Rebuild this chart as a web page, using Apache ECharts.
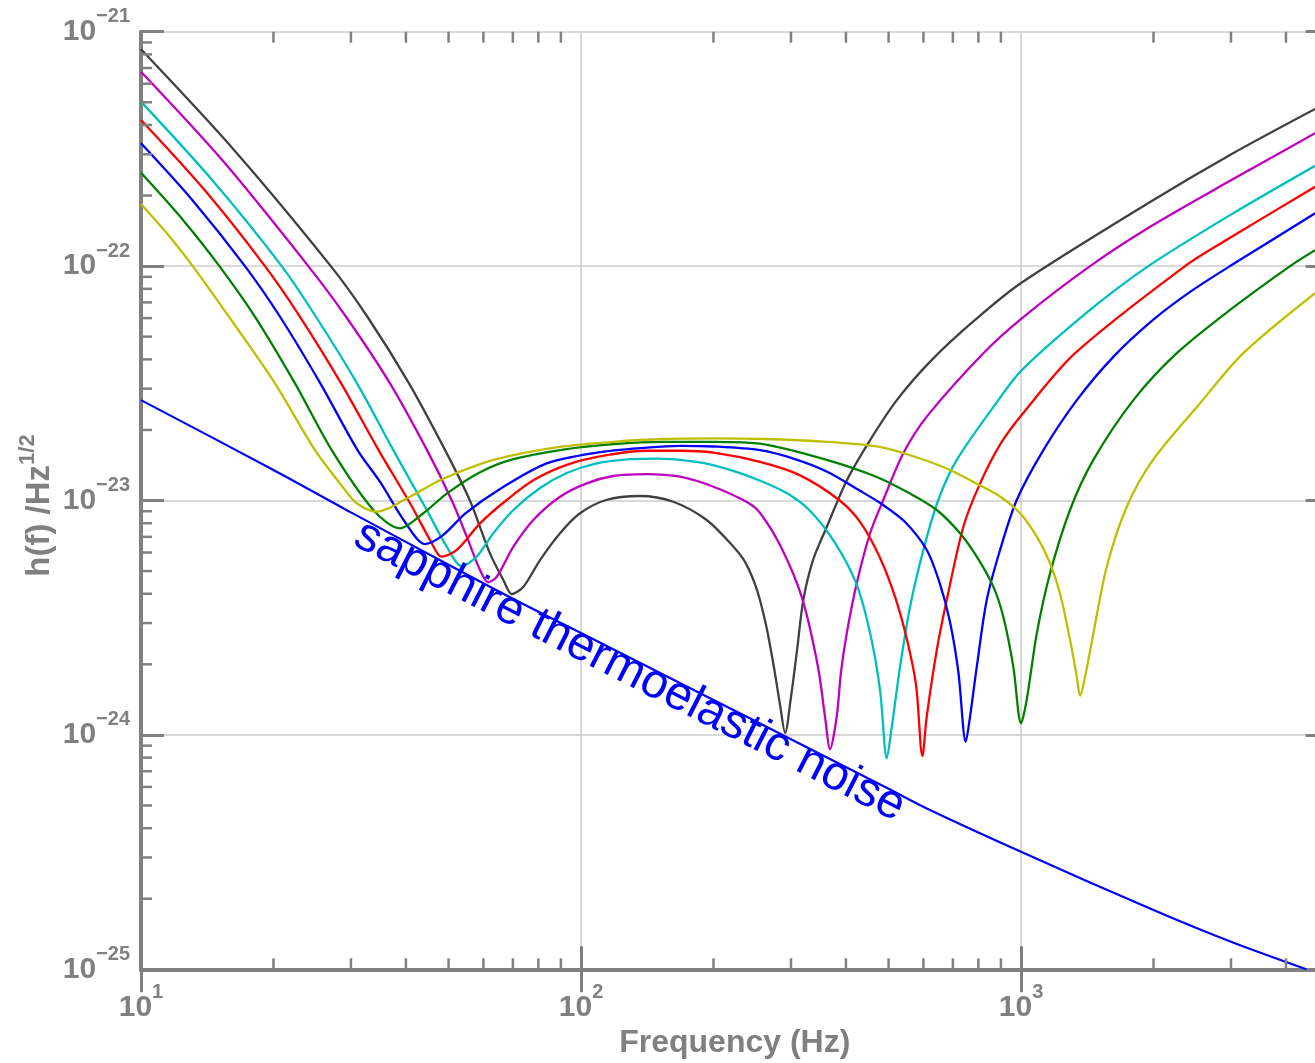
<!DOCTYPE html>
<html>
<head>
<meta charset="utf-8">
<title>h(f) vs frequency</title>
<script src="https://cdn.jsdelivr.net/npm/echarts/dist/echarts.min.js"></script>
<style>
  html, body { margin: 0; padding: 0; background: #fff; }
  #chart { width: 1315px; height: 1063px; }
</style>
</head>
<body>
<div id="chart"></div>
<script>
// [frequency (Hz), h(f)]
const black = [[10, 8.41e-22], [16.27, 3.13e-22], [27.0, 1.0e-22], [32.7, 6.08e-23], [40.65, 3.16e-23], [49.1, 1.64e-23], [55.9, 1.0e-23], [62.1, 5.95e-24], [66.6, 4.58e-24], [69.6, 3.99e-24], [74.0, 4.29e-24], [80.7, 5.57e-24], [89.6, 7.25e-24], [99.5, 8.82e-24], [114, 1.005e-23], [136, 1.045e-23], [162, 9.88e-24], [193, 8.26e-24], [222, 6.35e-24], [235.9, 5.47e-24], [251.2, 4.15e-24], [263.3, 2.94e-24], [274.6, 1.93e-24], [283.4, 1.34e-24], [291, 1.02e-24], [300, 1.45e-24], [309.7, 2.30e-24], [320, 3.76e-24], [336.7, 5.57e-24], [362, 7.73e-24], [402, 1.22e-23], [454, 1.81e-23], [522, 2.68e-23], [627, 3.98e-23], [786, 5.89e-23], [1000, 8.47e-23], [1995, 1.91e-22], [2985, 2.98e-22], [4659, 4.68e-22]];
const magenta = [[10, 6.75e-22], [15.28, 2.84e-22], [24.0, 1.0e-22], [29.24, 6.08e-23], [36.8, 3.16e-23], [44.67, 1.64e-23], [50.8, 1.005e-23], [55.0, 7.01e-24], [58.95, 5.05e-24], [61.55, 4.48e-24], [64.35, 4.73e-24], [70.2, 6.35e-24], [77.9, 8.26e-24], [89.6, 1.038e-23], [103, 1.184e-23], [118.4, 1.272e-23], [141.1, 1.297e-23], [167.9, 1.263e-23], [200, 1.145e-23], [238.1, 9.85e-24], [255.2, 8.85e-24], [284.8, 6.33e-24], [317.9, 3.84e-24], [345.6, 1.95e-24], [358.5, 1.196e-24], [368.1, 8.68e-25], [381.2, 1.196e-24], [389.9, 1.86e-24], [401.7, 2.71e-24], [423.2, 4.43e-24], [453.9, 7.25e-24], [486.4, 1.005e-23], [540.1, 1.59e-23], [610.6, 2.28e-23], [821, 4.25e-23], [1004, 5.99e-23], [1435, 1.0e-22], [1995, 1.497e-22], [2985, 2.31e-22], [4659, 3.69e-22]];
const cyan = [[10, 5.03e-22], [14.51, 2.33e-22], [20.88, 1.0e-22], [24.98, 6.08e-23], [30.97, 3.16e-23], [37.45, 1.64e-23], [44.61, 9.11e-24], [49.52, 6.35e-24], [53.56, 5.25e-24], [57.94, 5.76e-24], [63.2, 7.25e-24], [70.2, 9.11e-24], [80.7, 1.13e-23], [92.8, 1.31e-23], [108.6, 1.44e-23], [129.2, 1.50e-23], [148.6, 1.51e-23], [183.2, 1.46e-23], [218.1, 1.35e-23], [259.6, 1.20e-23], [298.5, 1.055e-23], [335, 8.85e-24], [377.8, 6.59e-24], [421.7, 4.45e-24], [453.9, 2.72e-24], [478.2, 1.55e-24], [495.3, 7.95e-25], [508.4, 1.08e-24], [530.9, 1.95e-24], [559.5, 3.52e-24], [599.8, 6.15e-24], [648.6, 1.005e-23], [714.3, 1.49e-23], [888, 2.68e-23], [1004, 3.60e-23], [1435, 6.50e-23], [1947, 1.0e-22], [2985, 1.65e-22], [4659, 2.68e-22]];
const red = [[10, 4.20e-22], [13.95, 2.11e-22], [19.13, 1.0e-22], [22.98, 6.08e-23], [28.5, 3.16e-23], [34.67, 1.64e-23], [41.09, 9.57e-24], [45.38, 6.79e-24], [48.24, 5.76e-24], [52.19, 6.15e-24], [58.95, 7.99e-24], [67.77, 1.005e-23], [77.9, 1.22e-23], [92.8, 1.42e-23], [114.4, 1.56e-23], [141.1, 1.63e-23], [167.9, 1.63e-23], [200, 1.60e-23], [255.2, 1.46e-23], [314.6, 1.28e-23], [385.9, 1.005e-23], [430.6, 8.10e-24], [478.2, 5.69e-24], [517.3, 3.88e-24], [550.8, 2.54e-24], [577.3, 1.63e-24], [596.7, 8.13e-25], [610.6, 1.20e-24], [643.4, 2.30e-24], [677.8, 3.76e-24], [739.5, 7.73e-24], [806.8, 1.18e-23], [896, 1.73e-23], [1004, 2.32e-23], [1327, 4.25e-23], [2359, 1.0e-22], [2985, 1.32e-22], [4659, 2.18e-22]];
const blue = [[10, 3.34e-22], [13.09, 1.91e-22], [17.23, 1.0e-22], [20.7, 6.08e-23], [25.56, 3.16e-23], [31.05, 1.64e-23], [34.94, 1.20e-23], [39.81, 8.10e-24], [44.21, 6.52e-24], [48.31, 7.06e-24], [54.79, 8.85e-24], [65.45, 1.12e-23], [83.6, 1.44e-23], [108.6, 1.60e-23], [141.1, 1.68e-23], [167.9, 1.71e-23], [200, 1.70e-23], [255.2, 1.64e-23], [303.8, 1.51e-23], [361.7, 1.33e-23], [430.6, 1.10e-23], [482.4, 9.66e-24], [545.1, 8.10e-24], [610.6, 6.15e-24], [654.5, 4.40e-24], [689.6, 3.03e-24], [720.3, 1.86e-24], [748.8, 9.35e-25], [765.9, 1.20e-24], [793.2, 1.95e-24], [835.7, 3.76e-24], [896, 6.15e-24], [977.7, 1.005e-23], [1124, 1.64e-23], [1339, 2.68e-23], [1621, 4.10e-23], [1995, 5.89e-23], [2422, 7.76e-23], [2985, 1.0e-22], [4659, 1.68e-22]];
const green = [[10, 2.50e-22], [12.47, 1.57e-22], [15.07, 1.0e-22], [18.16, 6.08e-23], [22.39, 3.16e-23], [27.13, 1.64e-23], [33.73, 9.11e-24], [38.78, 7.61e-24], [43.81, 8.82e-24], [49.52, 1.07e-23], [58.95, 1.32e-23], [70.2, 1.50e-23], [91.2, 1.65e-23], [118.4, 1.74e-23], [153.8, 1.78e-23], [200, 1.78e-23], [259.6, 1.74e-23], [361.7, 1.49e-23], [469.9, 1.26e-23], [559.5, 1.07e-23], [643.4, 9.11e-24], [726.6, 7.25e-24], [793.2, 5.76e-24], [864.9, 4.29e-24], [911.4, 3.19e-24], [960.5, 1.95e-24], [1000, 1.12e-24], [1030, 1.41e-24], [1086, 2.71e-24], [1164, 4.89e-24], [1292, 9.11e-24], [1460, 1.49e-23], [1800, 2.68e-23], [2259, 4.25e-23], [2985, 6.50e-23], [4087, 1.0e-22], [4659, 1.17e-22]];
const yellow = [[10, 1.84e-22], [11.52, 1.36e-22], [13.11, 1.0e-22], [16.44, 5.51e-23], [20.16, 3.16e-23], [24.86, 1.64e-23], [28.35, 1.18e-23], [30.92, 9.73e-24], [34.34, 8.96e-24], [40.17, 1.02e-23], [47.82, 1.22e-23], [58.95, 1.43e-23], [70.2, 1.56e-23], [91.2, 1.70e-23], [118.4, 1.78e-23], [153.8, 1.83e-23], [200, 1.84e-23], [259.6, 1.83e-23], [361.7, 1.78e-23], [469.9, 1.70e-23], [559.5, 1.56e-23], [677.8, 1.37e-23], [793.2, 1.18e-23], [896, 1.04e-23], [994.8, 8.82e-24], [1086, 7.01e-24], [1164, 5.40e-24], [1226, 4.02e-24], [1292, 2.55e-24], [1339, 1.77e-24], [1362, 1.47e-24], [1398, 1.77e-24], [1460, 2.71e-24], [1566, 5.22e-24], [1739, 9.41e-24], [1995, 1.49e-23], [2552, 2.60e-23], [3200, 4.25e-23], [4659, 7.66e-23]];
const thermo = [[10, 2.68e-23], [20, 1.35e-23], [30, 8.9e-24], [50, 5.32e-24], [70, 3.81e-24], [100, 2.72e-24], [200, 1.41e-24], [300, 9.59e-25], [500, 5.89e-25], [621, 4.78e-25], [1000, 3.17e-25], [2000, 1.79e-25], [3000, 1.31e-25], [4450, 1.0e-25]];

// axes
const xMin = 10, xMax = 5000;
const yMin = 1e-25, yMax = 1e-21;
const mantissas = [2, 3, 4, 5, 6, 7, 8, 9];
const xDecades = [10, 100, 1000];
const yDecades = [1e-25, 1e-24, 1e-23, 1e-22];

// label on the thermoelastic line
const noteText = 'sapphire thermoelastic noise';
const noteAnchor = [129, 1.87e-24];
const noteAngle = 27;

const gray = '#808080';
const fontFam = '"Liberation Sans", Arial, Helvetica, sans-serif';

function powText(e) {
  return '{b|10}{s|' + (e < 0 ? '\u2212' + (-e) : e) + '}';
}
function powLabel(v) {
  const lg = Math.log10(v);
  const e = Math.round(lg);
  if (!isFinite(lg) || Math.abs(lg - e) > 1e-6) return '';
  return powText(e);
}

const tickRich = {
  b: { fontSize: 30, fontWeight: 'bold', color: gray, fontFamily: fontFam, lineHeight: 50 },
  s: { fontSize: 20, fontWeight: 'bold', color: gray, fontFamily: fontFam, lineHeight: 20, verticalAlign: 'top' }
};

// minor ticks (2..9 per decade) on all four sides
const minorTicks = [];
xDecades.forEach(d => mantissas.forEach(m => { if (d * m < xMax) minorTicks.push([d * m, 1e-23, 0]); }));
yDecades.forEach(d => mantissas.forEach(m => minorTicks.push([100, d * m, 1])));

function renderMinorTick(params, api) {
  const cs = params.coordSys;
  const p = api.coord([api.value(0), api.value(1)]);
  const st = { stroke: gray, lineWidth: 2.5 };
  const len = 11;
  if (api.value(2) === 0) {
    return { type: 'group', children: [
      { type: 'line', shape: { x1: p[0], y1: cs.y + cs.height, x2: p[0], y2: cs.y + cs.height - len }, style: st },
      { type: 'line', shape: { x1: p[0], y1: cs.y, x2: p[0], y2: cs.y + len }, style: st }
    ] };
  }
  return { type: 'group', children: [
    { type: 'line', shape: { x1: cs.x, y1: p[1], x2: cs.x + len, y2: p[1] }, style: st },
    { type: 'line', shape: { x1: cs.x + cs.width, y1: p[1], x2: cs.x + cs.width - len, y2: p[1] }, style: st }
  ] };
}

function curve(data, color, w) {
  return {
    type: 'line', data: data, showSymbol: false, smooth: 0.3,
    lineStyle: { color: color, width: w || 2.3 }, itemStyle: { color: color },
    silent: true, z: 3
  };
}

const axisLine = { show: true, lineStyle: { color: gray, width: 4 } };
const majorTick = { show: true, inside: true, length: 23, lineStyle: { color: gray, width: 3 } };

const chart = echarts.init(document.getElementById('chart'), null, { renderer: 'canvas', width: 1315, height: 1063 });
chart.setOption({
  animation: false,
  backgroundColor: '#fff',
  grid: { left: 141, right: -13.6, top: 31.7, bottom: 93.7, containLabel: false, outerBoundsMode: 'none' },
  xAxis: [
    {
      type: 'log', logBase: 10, min: xMin, max: xMax, position: 'bottom',
      axisLine: axisLine, axisTick: majorTick,
      axisLabel: { formatter: powLabel, margin: 13, rich: tickRich },
      splitLine: { show: true, lineStyle: { color: '#cccccc', width: 1.5 } },
      name: 'Frequency (Hz)', nameLocation: 'middle', nameGap: 54,
      nameTextStyle: { fontSize: 32, fontWeight: 'bold', color: gray, fontFamily: fontFam }
    },
    {
      type: 'log', logBase: 10, min: xMin, max: xMax, position: 'top',
      axisLine: axisLine, axisTick: majorTick, axisLabel: { show: false }, splitLine: { show: false }
    }
  ],
  yAxis: [
    {
      type: 'log', logBase: 10, min: yMin, max: yMax, position: 'left',
      axisLine: axisLine, axisTick: majorTick,
      axisLabel: { formatter: powLabel, margin: 11, rich: tickRich },
      splitLine: { show: true, lineStyle: { color: '#cccccc', width: 1.5 } }
    },
    {
      type: 'log', logBase: 10, min: yMin, max: yMax, position: 'right',
      axisLine: axisLine, axisTick: majorTick, axisLabel: { show: false }, splitLine: { show: false }
    }
  ],
  series: [
    curve(thermo, '#0000ff', 2.2),
    curve(black, '#404040'),
    curve(magenta, '#bf00bf'),
    curve(cyan, '#00bfbf'),
    curve(red, '#ff0000'),
    curve(blue, '#0000ff'),
    curve(green, '#008000'),
    curve(yellow, '#bfbf00'),
    { type: 'custom', renderItem: renderMinorTick, data: minorTicks, silent: true, z: 5 }
  ]
});

const notePos = chart.convertToPixel({ xAxisIndex: 0, yAxisIndex: 0 }, noteAnchor);
const midY = chart.convertToPixel({ yAxisIndex: 0 }, 1e-23);
const botY = chart.convertToPixel({ yAxisIndex: 0 }, yMin);
const richG = function (b, s) {
  return {
    b: { fontSize: b, fontWeight: 'bold', fill: gray, fontFamily: fontFam, lineHeight: b === 30 ? 50 : 46 },
    s: { fontSize: s, fontWeight: 'bold', fill: gray, fontFamily: fontFam, lineHeight: s, verticalAlign: 'top' }
  };
};
chart.setOption({
  graphic: [
    {
      type: 'text', x: notePos[0], y: notePos[1], rotation: -noteAngle * Math.PI / 180, z: 10, silent: true,
      style: { text: noteText, fill: '#0000ff', font: '48px ' + fontFam, align: 'center', verticalAlign: 'middle' }
    },
    {
      // bottom y tick label
      type: 'text', x: 130, y: botY, z: 10, silent: true,
      style: { text: powText(-25), align: 'right', verticalAlign: 'middle', rich: richG(30, 20) }
    },
    {
      // y axis title
      type: 'text', x: 40, y: midY + 5, rotation: Math.PI / 2, z: 10, silent: true,
      style: { text: '{b|h(f) /Hz}{s|1/2}', align: 'center', verticalAlign: 'middle', rich: richG(33, 22) }
    }
  ]
});
</script>
</body>
</html>
